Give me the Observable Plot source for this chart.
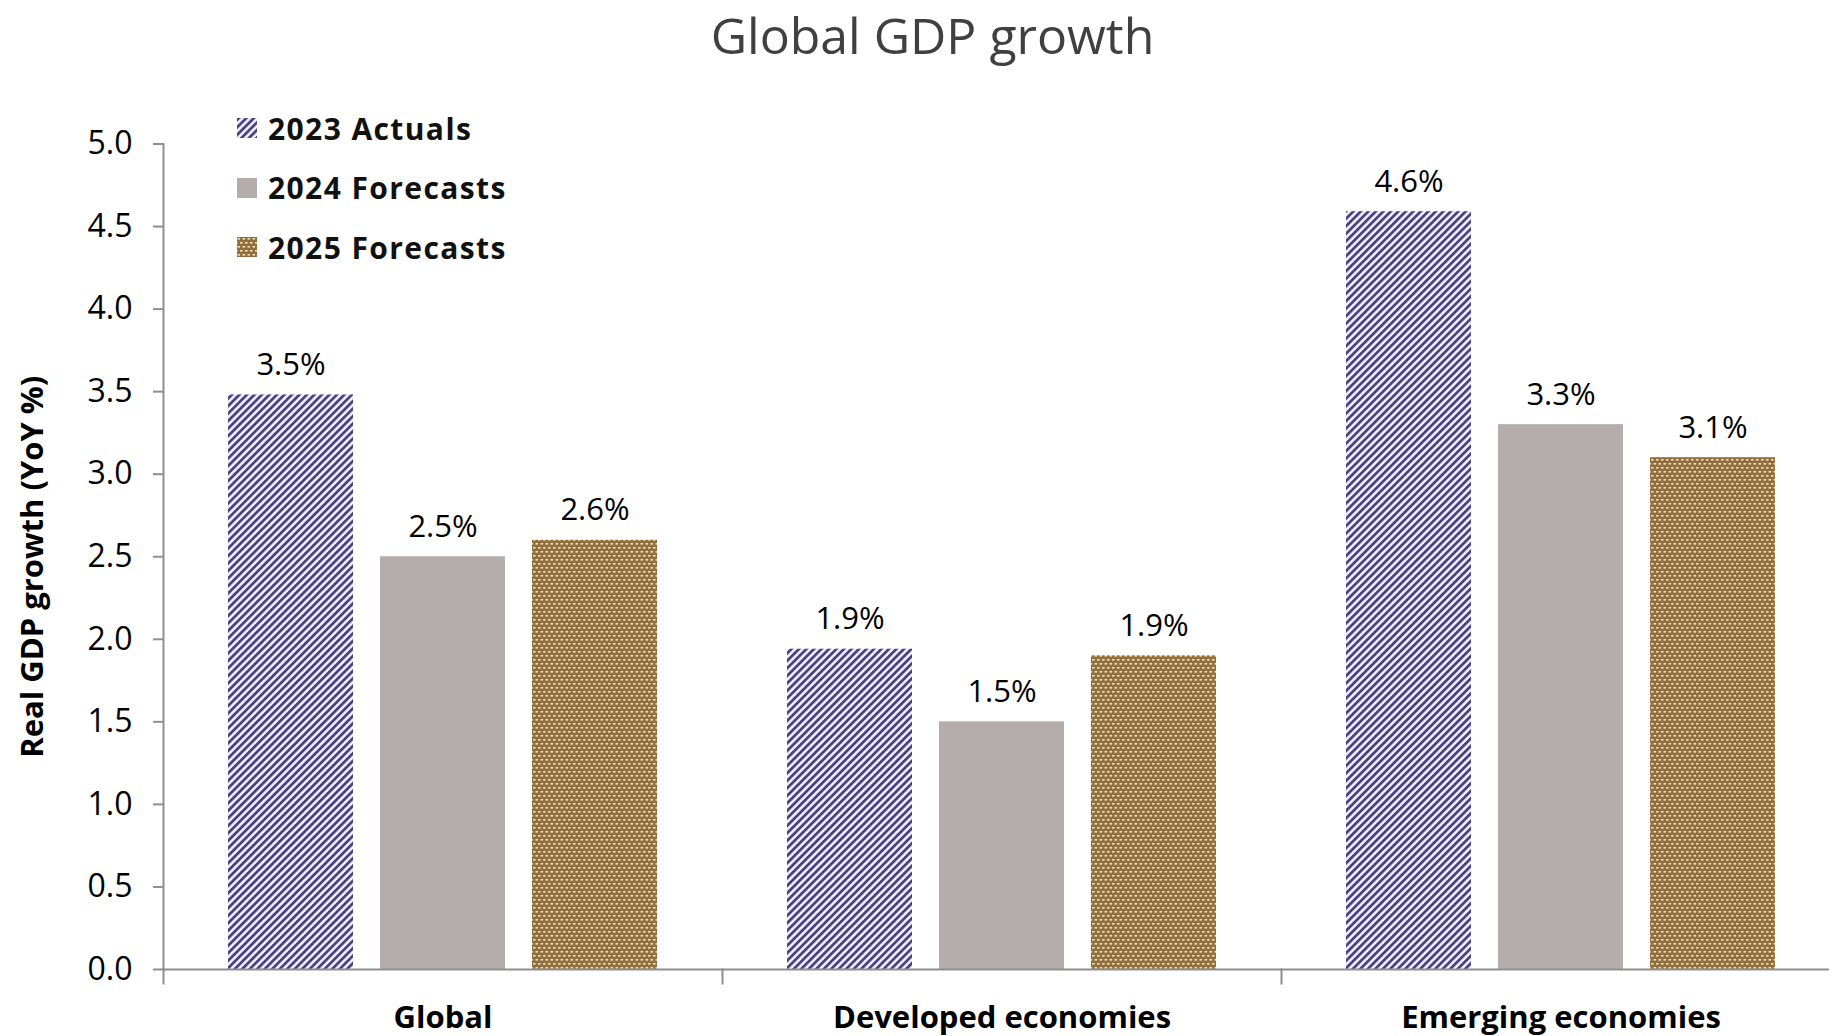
<!DOCTYPE html>
<html>
<head>
<meta charset="utf-8">
<script src="https://cdn.jsdelivr.net/npm/d3@7"></script>
<script src="https://cdn.jsdelivr.net/npm/@observablehq/plot@0.6"></script>
<style>
  body { margin: 0; background: white; font-family: "Open Sans", sans-serif; }
  #wrap { position: relative; width: 1829px; height: 1036px; overflow: hidden; }
  #title { height: 70px; line-height: 70px; padding-top: 0px; padding-left: 36px; box-sizing: border-box;
           text-align: center; font-size: 50px; color: #404040; }
  #legend { position: absolute; left: 237px; top: 108px; }
  .row { display: flex; align-items: center; height: 40px; margin-bottom: 19.5px;
         font-size: 30px; letter-spacing: 1.4px; font-weight: bold; color: #111; }
  .row svg { margin-right: 11px; }
</style>
</head>
<body>
<div id="wrap">
  <div id="title">Global GDP growth</div>
  <div id="legend"></div>
  <div id="chart"></div>
</div>
<script>
const categories = ["Global", "Developed economies", "Emerging economies"];
const series = ["2023 Actuals", "2024 Forecasts", "2025 Forecasts"];
const actuals2023 = [3.48, 1.94, 4.59];
const forecasts2024 = [2.5, 1.5, 3.3];
const forecasts2025 = [2.6, 1.9, 3.1];
const yTicks = [0, 0.5, 1, 1.5, 2, 2.5, 3, 3.5, 4, 4.5, 5];
const yLabel = "Real GDP growth (YoY %)";

const seriesValues = [actuals2023, forecasts2024, forecasts2025];
const fills = ["url(#stripes)", "#b4acad", "url(#dots)"];
const axisGray = "#8f8f8f";

const data = categories.flatMap((c, i) =>
  series.map((s, j) => ({category: c, series: s, value: seriesValues[j][i]}))
);

const W = 1829, H = 966;
const mTop = 73.5, mBottom = 67;

let chart = Plot.plot({
  width: W,
  height: H,
  marginTop: mTop,
  marginBottom: mBottom,
  marginLeft: 163,
  marginRight: -11,
  style: { background: "transparent", fontFamily: "Open Sans", color: "black", overflow: "visible" },
  fx: { domain: categories, padding: 0, axis: null },
  x: { domain: series, paddingInner: 0.175, paddingOuter: 0.417, axis: null },
  y: { domain: [0, 5], axis: null },
  color: { domain: series, range: fills },
  marks: [
    Plot.barY(data, { fx: "category", x: "series", y: "value", fill: "series" }),
    Plot.text(data, {
      fx: "category", x: "series", y: "value",
      text: d => d.value.toFixed(1) + "%",
      lineAnchor: "bottom", dy: -20, fontSize: 31, fill: "black"
    }),
    Plot.ruleY([0], { stroke: axisGray, strokeWidth: 2 }),
    // y axis line (first facet only)
    Plot.frame({ anchor: "left", facetAnchor: "left", stroke: axisGray, strokeWidth: 2 }),
    // small ticks under the axis at each group boundary
    Plot.frame({ anchor: "left", insetTop: H - mTop - mBottom, insetBottom: -14, stroke: axisGray, strokeWidth: 2 }),
    Plot.axisY({
      ticks: yTicks, tickFormat: d3.format(".1f"), label: null,
      tickSize: 10, tickPadding: 21, fontSize: 32,
      stroke: axisGray, strokeWidth: 2, fill: "black"
    }),
    Plot.text([yLabel], {
      frameAnchor: "left", facetAnchor: "left", textAnchor: "middle", rotate: -90, dx: -130, dy: 10,
      fontSize: 31, fontWeight: "bold", fill: "black"
    }),
    Plot.axisFx({
      anchor: "bottom", label: null, tickSize: 0, tickPadding: 36, fontSize: 31, fontWeight: "bold", fill: "black"
    })
  ]
});

// hatch patterns for the 2023 and 2025 bars
const defs = d3.select(chart).insert("defs", ":first-child");
const stripes = defs.append("pattern")
  .attr("id", "stripes").attr("patternUnits", "userSpaceOnUse")
  .attr("width", 5.3).attr("height", 10).attr("patternTransform", "rotate(45)");
stripes.append("rect").attr("width", 5.3).attr("height", 10).attr("fill", "#f6f3fd");
stripes.append("rect").attr("width", 2.8).attr("height", 10).attr("fill", "#4b4283");

const dots = defs.append("pattern")
  .attr("id", "dots").attr("patternUnits", "userSpaceOnUse")
  .attr("width", 5).attr("height", 8);
dots.append("rect").attr("width", 5).attr("height", 8).attr("fill", "#8f6e40");
dots.append("rect").attr("x", 0.5).attr("y", 1).attr("width", 2.6).attr("height", 1.6).attr("fill", "#f1dfb0");
dots.append("rect").attr("x", 3).attr("y", 5).attr("width", 2.6).attr("height", 1.6).attr("fill", "#f1dfb0");
dots.append("rect").attr("x", -2).attr("y", 5).attr("width", 2.6).attr("height", 1.6).attr("fill", "#f1dfb0");

d3.select("#chart").append(() => chart);

// legend
const legend = d3.select("#legend");
series.forEach((s, i) => {
  const row = legend.append("div").attr("class", "row");
  const sw = row.append("svg").attr("width", 20).attr("height", 20);
  sw.append("rect").attr("width", 20).attr("height", 20).attr("fill", fills[i]);
  row.append("span").text(s);
});
</script>
</body>
</html>
